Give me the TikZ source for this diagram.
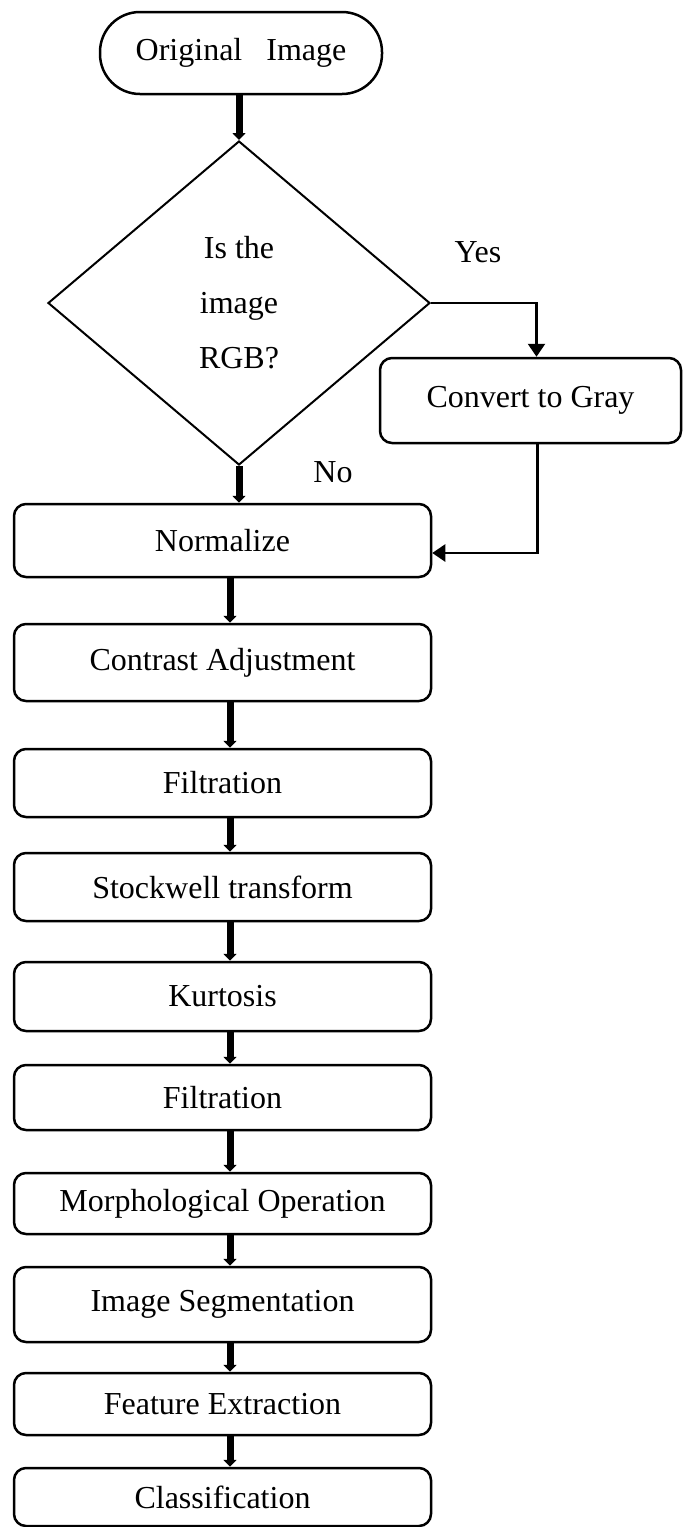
\documentclass[tikz,border=0pt]{standalone}
\usepackage{fontspec}
\setmainfont{Liberation Serif}
\usetikzlibrary{arrows.meta, shapes.geometric}

\begin{document}
\begin{tikzpicture}[x=0.5pt, y=-0.5pt,
  font=\fontsize{16}{19}\selectfont,
  procbox/.style={draw, line width=1.25pt, rounded corners=6pt, inner sep=0pt,
    minimum width=208.5pt},
  thickarrow/.style={line width=3.5pt, -{Triangle[width=6.5pt, length=3.5pt]}},
  thinarrow/.style={line width=1.25pt, -{Triangle[width=8.5pt, length=6.5pt]}}]
  \useasboundingbox (0,0) rectangle (683,1527);
  % start and decision
  \node[draw, line width=1.25pt, rounded corners=20pt, inner sep=0pt,
    minimum width=141pt, minimum height=41pt] (start) at (241,53) {Original\ \ \ Image};
  \node[draw, diamond, line width=1pt, inner sep=0pt, aspect=1.18,
    minimum width=191pt, minimum height=162pt, align=center,
    font=\fontsize{16}{27.5}\selectfont] (dia) at (239,303) {Is the\\image\\RGB?};
  \node[procbox, minimum width=150.5pt, minimum height=42.5pt] (conv) at (530.5,400.5) {Convert to Gray};
  % main column
  \node[procbox, minimum height=36.5pt] (norm) at (222.5,540.5) {Normalize};
  \node[procbox, minimum height=38.5pt] (contr) at (222.5,662.5) {Contrast Adjustment};
  \node[procbox, minimum height=34pt] (filt1) at (222.5,783) {Filtration};
  \node[procbox, minimum height=34pt] (stock) at (222.5,887) {Stockwell transform};
  \node[procbox, minimum height=34.5pt] (kurt) at (222.5,996.5) {Kurtosis};
  \node[procbox, minimum height=32.5pt] (filt2) at (222.5,1097.5) {Filtration};
  \node[procbox, minimum height=30.5pt] (morph) at (222.5,1203.5) {Morphological Operation};
  \node[procbox, minimum height=37.5pt] (seg) at (222.5,1304.5) {Image Segmentation};
  \node[procbox, minimum height=31pt] (feat) at (222.5,1404) {Feature Extraction};
  \node[procbox, minimum height=29pt] (class) at (222.5,1497) {Classification};
  % labels
  \node (lblyes) at (478,252) {Yes};
  \node (lblno) at (333,472) {No};
  % connectors
  \draw[thickarrow] (start.south -| dia.north) -- (dia.north);
  \draw[thickarrow] (dia.south) -- (dia.south |- norm.north);
  \draw[thinarrow] (dia.east) -| ([xshift=3pt]conv.north);
  \draw[thinarrow] ([xshift=3.5pt]conv.south) |- ([yshift=-6.25pt]norm.east);
  \foreach \a/\b in {norm/contr, contr/filt1, filt1/stock, stock/kurt, kurt/filt2,
    filt2/morph, morph/seg, seg/feat, feat/class}
    \draw[thickarrow] ([xshift=3.75pt]\a.south) -- ([xshift=3.75pt]\b.north);
\end{tikzpicture}
\end{document}
